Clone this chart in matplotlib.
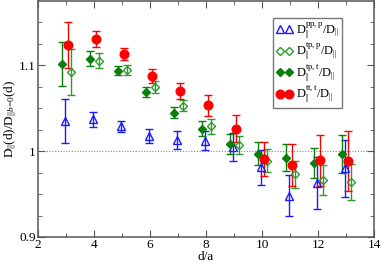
import matplotlib
matplotlib.use("Agg")
import matplotlib.pyplot as plt
import numpy as np

plt.rcParams['font.family'] = 'Liberation Serif'
plt.rcParams['mathtext.fontset'] = 'custom'
plt.rcParams['mathtext.rm'] = 'Liberation Serif'
plt.rcParams['mathtext.it'] = 'Liberation Serif:italic'

# distance d/a
d = np.array([3, 4, 5, 6, 7, 8, 9, 10, 11, 12, 13])

# D_par^{pp,p} / D_par
pp_p = [1.035, 1.037, 1.029, 1.018, 1.013, 1.012, 1.005, 0.981, 0.948, 0.963, 0.980]
pp_p_err = [0.026, 0.0085, 0.0065, 0.008, 0.0105, 0.011, 0.016, 0.020, 0.024, 0.030, 0.033]

# D_par^{tp,p} / D_par
tp_p = [1.092, 1.1055, 1.095, 1.075, 1.053, 1.029, 1.007, 0.989, 0.973, 0.966, 0.964]
tp_p_err = [0.027, 0.009, 0.006, 0.007, 0.0066, 0.009, 0.0105, 0.0137, 0.016, 0.0175, 0.021]

# D_par^{tp,t} / D_par
tp_t = [1.1015, 1.108, 1.094, 1.069, 1.045, 1.026, 1.0087, 0.997, 0.9924, 0.9862, 0.997]
tp_t_err = [0.026, 0.0085, 0.005, 0.006, 0.0067, 0.0086, 0.0117, 0.0135, 0.0155, 0.018, 0.022]

# D_par^{tt,t} / D_par
tt_t = [1.124, 1.131, 1.113, 1.088, 1.0705, 1.0534, 1.0262, 0.991, 0.984, 0.9893, 0.9886]
tt_t_err = [0.027, 0.009, 0.0068, 0.008, 0.0095, 0.0126, 0.016, 0.020, 0.0245, 0.030, 0.0345]

fig = plt.figure(figsize=(3.82, 2.63), dpi=100)
ax = fig.add_axes([0.0995, 0.099, 0.8795, 0.897])

ax.axhline(1.0, color='#888888', ls=(0, (1, 1.5)), lw=0.8, zorder=0)

eb = dict(capsize=3.2, elinewidth=1.0, capthick=1.0)
ax.errorbar(d - 0.05, pp_p, yerr=pp_p_err, fmt='^', color='#1a1aff', mfc='none',
            mew=1.0, ms=5.5, label=r'D$_{||}^{\mathrm{pp,p}}$/D$_{||}$', **eb)
ax.errorbar(d + 0.17, tp_p, yerr=tp_p_err, fmt='D', color='#2a9d2a', mfc='none',
            mew=1.0, ms=4.3, label=r'D$_{||}^{\mathrm{tp,p}}$/D$_{||}$', **eb)
ax.errorbar(d - 0.13, tp_t, yerr=tp_t_err, fmt='D', color='#0a7d0a', mfc='#0a7d0a',
            ms=4.3, label=r'D$_{||}^{\mathrm{tp,t}}$/D$_{||}$', **eb)
ax.errorbar(d + 0.06, tt_t, yerr=tt_t_err, fmt='o', color='#ff0000', mfc='#ff0000',
            ms=6.2, label=r'D$_{||}^{\mathrm{tt,t}}$/D$_{||}$', **eb)

ax.set_xlim(2, 14)
ax.set_ylim(0.9, 1.175)
ax.set_xticks([2, 4, 6, 8, 10, 12, 14])
ax.set_xticks([3, 5, 7, 9, 11, 13], minor=True)
ax.set_yticks([0.9, 1.0, 1.1])
ax.set_yticklabels(['0.9', '1', '1.1'])
ax.set_yticks(np.arange(0.925, 1.175, 0.025), minor=True)
ax.tick_params(which='both', direction='in', top=True, right=True,
               color='#555555', labelsize=9.5, pad=1.5)
ax.tick_params(which='major', length=5)
ax.tick_params(which='minor', length=3)
for s in ax.spines.values():
    s.set_color('#555555')
    s.set_linewidth(1.1)

ax.set_xlabel('d/a', fontsize=9.5, labelpad=0)
ax.set_ylabel(r'D$_{||}$(d)/D$_{||b\!=\!0}$(d)', fontsize=9.5, labelpad=0)

handles, labels = ax.get_legend_handles_labels()
handles = [h[0] for h in handles]
leg = ax.legend(handles, labels, loc='upper left', bbox_to_anchor=(0.70, 0.93),
                numpoints=2, fontsize=9, frameon=True, fancybox=False,
                handlelength=1.3, handletextpad=0.25, labelspacing=0.0,
                borderpad=0.25, borderaxespad=0)
leg.get_frame().set_edgecolor('#555555')
leg.get_frame().set_linewidth(1.0)

fig.savefig('out.png', dpi=100)
